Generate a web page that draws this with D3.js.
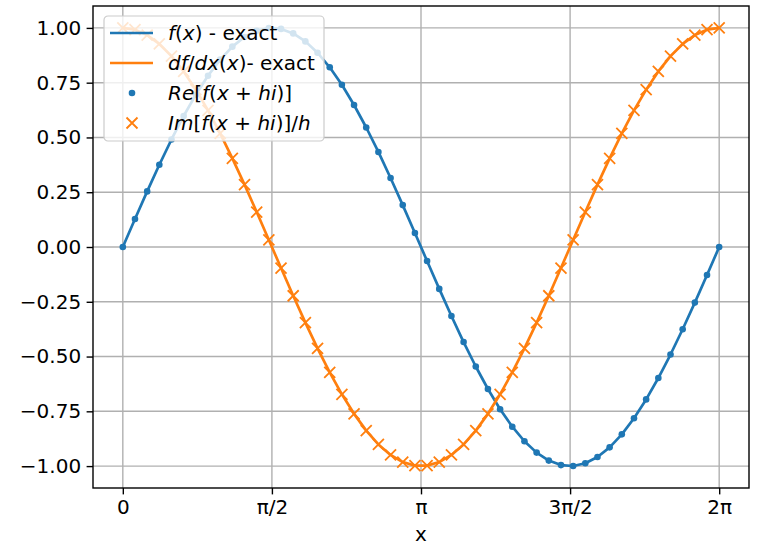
<!DOCTYPE html>
<html>
<head>
<meta charset="utf-8">
<title>f(x) and df/dx via complex step</title>
<style>
  body{margin:0;background:#fff;}
  svg text{font-family:"DejaVu Sans",sans-serif;fill:#000;}
  .grid line{stroke:#b0b0b0;stroke-width:1.4;}
  .axis path,.axis line{stroke:#000;stroke-width:1.4;}
</style>
</head>
<body>
<svg id="chart" width="757" height="545"></svg>
<script src="https://d3js.org/d3.v7.min.js"></script>
<script>
// sample points (50 points on [0, 2pi])
const xValues = [0, 0.1282, 0.2565, 0.3847, 0.5129, 0.6411, 0.7694, 0.8976, 1.0258, 1.1541,
  1.2823, 1.4105, 1.5387, 1.6670, 1.7952, 1.9234, 2.0517, 2.1799, 2.3081, 2.4363,
  2.5646, 2.6928, 2.8210, 2.9493, 3.0775, 3.2057, 3.3339, 3.4622, 3.5904, 3.7186,
  3.8468, 3.9751, 4.1033, 4.2315, 4.3598, 4.4880, 4.6162, 4.7444, 4.8727, 5.0009,
  5.1291, 5.2574, 5.3856, 5.5138, 5.6420, 5.7703, 5.8985, 6.0267, 6.1550, 6.2832];
// f(x) exact and Re[f(x+hi)]
const fValues = [0, 0.1279, 0.2537, 0.3753, 0.4907, 0.5981, 0.6957, 0.7818, 0.8551, 0.9144,
  0.9587, 0.9872, 0.9995, 0.9954, 0.9749, 0.9385, 0.8866, 0.8202, 0.7403, 0.6482,
  0.5455, 0.4339, 0.3151, 0.1912, 0.0641, -0.0641, -0.1912, -0.3151, -0.4339, -0.5455,
  -0.6482, -0.7403, -0.8202, -0.8866, -0.9385, -0.9749, -0.9954, -0.9995, -0.9872, -0.9587,
  -0.9144, -0.8551, -0.7818, -0.6957, -0.5981, -0.4907, -0.3753, -0.2537, -0.1279, 0];
// df/dx exact and Im[f(x+hi)]/h
const dfValues = [1, 0.9918, 0.9673, 0.9269, 0.8713, 0.8014, 0.7183, 0.6235, 0.5184, 0.4048,
  0.2845, 0.1596, 0.0321, -0.0960, -0.2225, -0.3454, -0.4625, -0.5721, -0.6723, -0.7615,
  -0.8381, -0.9010, -0.9491, -0.9816, -0.9979, -0.9979, -0.9816, -0.9491, -0.9010, -0.8381,
  -0.7615, -0.6723, -0.5721, -0.4625, -0.3454, -0.2225, -0.0960, 0.0321, 0.1596, 0.2845,
  0.4048, 0.5184, 0.6235, 0.7183, 0.8014, 0.8713, 0.9269, 0.9673, 0.9918, 1];

const xTickValues = [0, 1.5708, 3.1416, 4.7124, 6.2832];
const xTickLabels = ['0', 'π/2', 'π', '3π/2', '2π'];
const yTickValues = [-1, -0.75, -0.5, -0.25, 0, 0.25, 0.5, 0.75, 1];

const blue = '#1f77b4', orange = '#ff7f0e';
const plotL = 93, plotR = 749, plotT = 6, plotB = 488;
const fs = 20;

const svg = d3.select('#chart');

const x = d3.scaleLinear().domain([-0.31416, 6.59734]).range([plotL, plotR]);
const y = d3.scaleLinear().domain([-1.1, 1.1]).range([plotB, plotT]);

// grid
const grid = svg.append('g').attr('class', 'grid');
grid.selectAll('.gx').data(xTickValues).enter().append('line')
  .attr('x1', d => x(d)).attr('x2', d => x(d)).attr('y1', plotT).attr('y2', plotB);
grid.selectAll('.gy').data(yTickValues).enter().append('line')
  .attr('x1', plotL).attr('x2', plotR).attr('y1', d => y(d)).attr('y2', d => y(d));

const pts = xValues.map((d, i) => ({x: d, f: fValues[i], df: dfValues[i]}));

const lineF = d3.line().x(d => x(d.x)).y(d => y(d.f));
const lineDf = d3.line().x(d => x(d.x)).y(d => y(d.df));

svg.append('path').datum(pts).attr('d', lineF)
  .attr('fill', 'none').attr('stroke', blue).attr('stroke-width', 2.7).attr('stroke-linejoin', 'round');
svg.append('path').datum(pts).attr('d', lineDf)
  .attr('fill', 'none').attr('stroke', orange).attr('stroke-width', 2.7).attr('stroke-linejoin', 'round');

svg.selectAll('.dot').data(pts).enter().append('circle')
  .attr('cx', d => x(d.x)).attr('cy', d => y(d.f)).attr('r', 3.3).attr('fill', blue);

const xMark = 'M-5.5,-5.5L5.5,5.5M-5.5,5.5L5.5,-5.5';
svg.selectAll('.xm').data(pts).enter().append('path')
  .attr('d', xMark).attr('transform', d => 'translate(' + x(d.x) + ',' + y(d.df) + ')')
  .attr('fill', 'none').attr('stroke', orange).attr('stroke-width', 1.8);

// axes
const fmt = v => d3.format('.2f')(v).replace('-', '\u2212');
svg.append('g').attr('class', 'axis').attr('transform', 'translate(0,' + plotB + ')')
  .call(d3.axisBottom(x).tickValues(xTickValues).tickSize(6.4).tickPadding(5)
    .tickFormat((d, i) => xTickLabels[i]))
  .call(g => g.select('.domain').remove())
  .selectAll('text').attr('font-size', fs).attr('font-family', 'DejaVu Sans');
svg.append('g').attr('class', 'axis').attr('transform', 'translate(' + plotL + ',0)')
  .call(d3.axisLeft(y).tickValues(yTickValues).tickSize(6.4).tickPadding(5.5).tickFormat(fmt))
  .call(g => g.select('.domain').remove())
  .selectAll('text').attr('font-size', fs).attr('font-family', 'DejaVu Sans');

svg.append('rect').attr('x', plotL).attr('y', plotT).attr('width', plotR - plotL).attr('height', plotB - plotT)
  .attr('fill', 'none').attr('stroke', '#000').attr('stroke-width', 1.4);

svg.append('text').attr('x', (plotL + plotR) / 2).attr('y', 541).attr('text-anchor', 'middle')
  .attr('font-size', fs).text('x');

// legend
const legend = svg.append('g').attr('transform', 'translate(104,16)');
legend.append('rect').attr('width', 220).attr('height', 125).attr('rx', 4)
  .attr('fill', '#fff').attr('fill-opacity', 0.8).attr('stroke', '#cccccc').attr('stroke-width', 1.2);

const entries = [
  {kind: 'lineF', parts: [['f', 1], ['(', 0], ['x', 1], [') - exact', 0]]},
  {kind: 'lineDf', parts: [['df', 1], ['/', 0], ['dx', 1], ['(', 0], ['x', 1], [')- exact', 0]]},
  {kind: 'dot', parts: [['Re', 1], ['[', 0], ['f', 1], ['(', 0], ['x', 1], [' + ', 0], ['hi', 1], [')]', 0]]},
  {kind: 'cross', parts: [['Im', 1], ['[', 0], ['f', 1], ['(', 0], ['x', 1], [' + ', 0], ['hi', 1], [')]/', 0], ['h', 1]]}
];

entries.forEach((e, i) => {
  const cy = 17 + i * 30;
  if (e.kind === 'lineF' || e.kind === 'lineDf') {
    legend.append('line').attr('x1', 6).attr('x2', 49).attr('y1', cy).attr('y2', cy)
      .attr('stroke', e.kind === 'lineF' ? blue : orange).attr('stroke-width', 2.7);
  } else if (e.kind === 'dot') {
    legend.append('circle').attr('cx', 28).attr('cy', cy).attr('r', 3.3).attr('fill', blue);
  } else {
    legend.append('path').attr('d', xMark).attr('transform', 'translate(28,' + cy + ')')
      .attr('fill', 'none').attr('stroke', orange).attr('stroke-width', 1.8);
  }
  const t = legend.append('text').attr('x', 64).attr('y', cy + 7).attr('font-size', fs)
    .attr('xml:space', 'preserve');
  e.parts.forEach(p => {
    t.append('tspan').attr('font-style', p[1] ? 'italic' : 'normal').text(p[0]);
  });
});
</script>
</body>
</html>
